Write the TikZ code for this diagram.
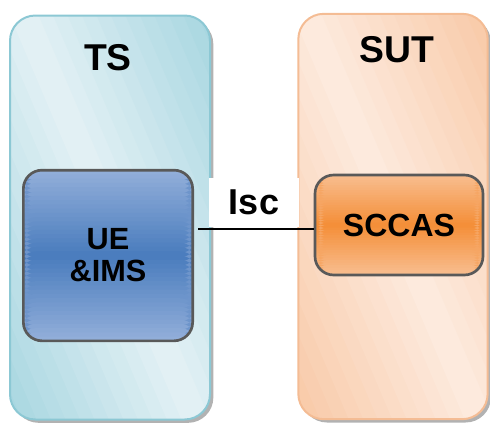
\documentclass[tikz,border=0pt]{standalone}
\usepackage{fontspec}
\setmainfont{Liberation Sans}
\usepackage{tikz}
\usetikzlibrary{shadows,calc}
\tikzset{every picture/.style={line width=0.75pt}}
\definecolor{tslight}{HTML}{E4F1F5}
\definecolor{tsdark}{HTML}{8ECBD8}
\definecolor{tsedge}{HTML}{8CC8D4}
\definecolor{uelight}{HTML}{93AFDA}
\definecolor{uedark}{HTML}{497CBD}
\definecolor{sutlight}{HTML}{FDEBDF}
\definecolor{sutdark}{HTML}{F6BA8E}
\definecolor{sutedge}{HTML}{F4BC94}
\definecolor{sclight}{HTML}{F8BE90}
\definecolor{scdark}{HTML}{F48E37}
\definecolor{boxedge}{HTML}{595959}
\tikzset{
  outerbox/.style={rectangle, rounded corners=19pt, inner sep=0pt, line width=1.5pt,
    drop shadow={shadow xshift=2.5pt, shadow yshift=-2.5pt, fill=black!30, opacity=1}},
  innerbox/.style={rectangle, rounded corners=14pt, inner sep=0pt, draw=boxedge, line width=2pt,
    font=\fontsize{23}{26}\selectfont\bfseries, align=center},
  title/.style={font=\fontsize{28}{30}\selectfont\bfseries},
  % light - dark - light, top to bottom
  vshade/.style 2 args={fill=#1!50!#2, path picture={
    \path (path picture bounding box.north west) coordinate (pnw)
          (path picture bounding box.south east) coordinate (pse);
    \foreach \k in {0,...,39}{
      \pgfmathsetmacro\sta{\k/40}
      \pgfmathsetmacro\stb{min(1,(\k+1.4)/40)}
      \pgfmathsetmacro\shpct{100*abs(2*(\k+0.5)/40-1)}
      \fill[#1!\shpct!#2] let \p1=(pnw), \p2=(pse) in
        (\x1-4pt,{\y1+\sta*(\y2-\y1)}) rectangle (\x2+4pt,{\y1+\stb*(\y2-\y1)});
    }}},
  % light band on the diagonal, dark corners
  dshade/.style 2 args={fill=#1!50!#2, path picture={
    \coordinate (pc) at (path picture bounding box.center);
    \foreach \k in {0,...,35}{
      \pgfmathsetmacro\shpct{100*(1-abs((\k+0.5)/18-1))}
      \pgfmathsetmacro\sta{-180+\k*10}
      \pgfmathsetmacro\stb{-169+\k*10}
      \fill[#1!\shpct!#2] ($(pc)+(23:\sta pt)+(-67:240pt)$) -- ($(pc)+(23:\stb pt)+(-67:240pt)$)
        -- ($(pc)+(23:\stb pt)+(113:240pt)$) -- ($(pc)+(23:\sta pt)+(113:240pt)$) -- cycle;
    }}}
}

\begin{document}
\begin{tikzpicture}[x=0.75pt,y=0.75pt,yscale=-1,xscale=1]
\useasboundingbox (0,0) rectangle (490,426);
% test system side
\node (ts) at (110,217.5) [outerbox, draw=tsedge, dshade={tslight}{tsdark}, minimum width=150pt, minimum height=303pt] {};
\node (tstitle) at (108,58) [title] {TS};
\node (ue) at (108,255.5) [innerbox, vshade={uelight}{uedark}, minimum width=127pt, minimum height=128pt] {UE\\[-2pt]\&IMS};
% system under test side
\node (sut) at (393,216.5) [outerbox, draw=sutedge, dshade={sutlight}{sutdark}, minimum width=142pt, minimum height=304pt] {};
\node (suttitle) at (397,50) [title] {SUT};
\node (sccas) at (399,225) [innerbox, vshade={sclight}{scdark}, minimum width=126pt, minimum height=75pt, font=\fontsize{24}{26}\selectfont\bfseries] {SCCAS};
% interface
\node (isc) at (254,202.5) [fill=white, minimum width=67pt, minimum height=37pt, inner sep=0pt, font=\fontsize{27}{29}\selectfont\bfseries] {Isc};
\draw [line width=1.5pt] ([yshift=3pt,xshift=3pt]sccas.west -| ue.east) -- ([yshift=3pt]sccas.west);
\end{tikzpicture}
\end{document}
